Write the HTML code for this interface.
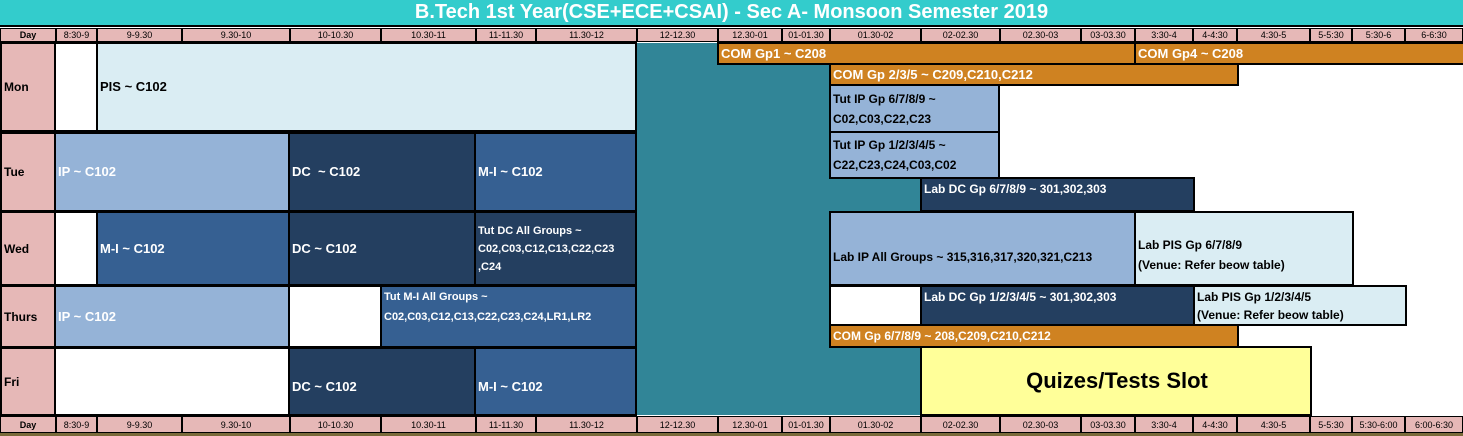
<!DOCTYPE html>
<html><head><meta charset="utf-8"><style>
*{box-sizing:border-box;margin:0;padding:0}
body{width:1463px;height:436px;position:relative;background:#fff;font-family:"Liberation Sans Narrow","Liberation Sans",sans-serif;overflow:hidden}
.b{position:absolute;border:2px solid #000;font-weight:bold;font-size:13px;display:flex;align-items:center;padding-left:2px;line-height:20px;color:#fff}
.h{position:absolute;background:#e6b8b7;border:1px solid #000;font-size:9px;display:flex;align-items:center;justify-content:center;color:#000}
.lb{background:#95b3d7;color:#fff}
.pl{background:#daedf3;color:#000}
.dk{background:#243f60}
.md{background:#366092}
.or{background:#cf8221}
.wh{background:#fff}
.dy{position:absolute;left:0;width:56px;background:#e6b8b7;border:2px solid #000;font-weight:bold;font-size:12px;display:flex;align-items:center;padding-left:2px}
</style></head><body>
<div style="position:absolute;left:0;top:0;width:1463px;height:27px;background:#33cccc;color:#fff;font-weight:bold;font-size:20px;display:flex;align-items:center;justify-content:center;border-bottom:2px solid #000">B.Tech 1st Year(CSE+ECE+CSAI) - Sec A- Monsoon Semester 2019</div>
<div id="hdr"></div>
<div style="position:absolute;left:637px;top:43px;width:284px;height:372px;background:#318597"></div>

<div class="dy" style="top:42px;height:90px">Mon</div>
<div class="dy" style="top:132px;height:80px">Tue</div>
<div class="dy" style="top:211px;height:75px">Wed</div>
<div class="dy" style="top:285px;height:63px">Thurs</div>
<div class="dy" style="top:347px;height:69px">Fri</div>

<div class="b wh" style="left:54px;top:42px;width:44px;height:90px"></div>
<div class="b pl" style="left:96px;top:42px;width:541px;height:90px">PIS ~ C102</div>
<div class="b or" style="left:717px;top:42px;width:419px;height:23px">COM Gp1 ~ C208</div>
<div class="b or" style="left:1134px;top:42px;width:331px;height:23px">COM Gp4 ~ C208</div>
<div class="b or" style="left:829px;top:63px;width:410px;height:23px">COM Gp 2/3/5 ~ C209,C210,C212</div>
<div class="b lb" style="left:829px;top:84px;width:171px;height:49px;color:#000;font-size:12px">Tut IP Gp 6/7/8/9 ~<br>C02,C03,C22,C23</div>

<div class="b lb" style="left:54px;top:132px;width:236px;height:80px">IP ~ C102</div>
<div class="b dk" style="left:288px;top:132px;width:188px;height:80px">DC &nbsp;~ C102</div>
<div class="b md" style="left:474px;top:132px;width:163px;height:80px">M-I ~ C102</div>
<div class="b lb" style="left:829px;top:131px;width:171px;height:48px;color:#000;font-size:12px">Tut IP Gp 1/2/3/4/5 ~<br>C22,C23,C24,C03,C02</div>
<div class="b dk" style="left:920px;top:177px;width:275px;height:35px;align-items:flex-start;font-size:12px">Lab DC Gp 6/7/8/9 ~ 301,302,303</div>

<div class="b wh" style="left:54px;top:211px;width:44px;height:75px"></div>
<div class="b md" style="left:96px;top:211px;width:194px;height:75px">M-I ~ C102</div>
<div class="b dk" style="left:288px;top:211px;width:188px;height:75px">DC ~ C102</div>
<div class="b dk" style="left:474px;top:211px;width:163px;height:75px;font-size:11px;line-height:18px">Tut DC All Groups ~<br>C02,C03,C12,C13,C22,C23<br>,C24</div>
<div class="b lb" style="left:829px;top:211px;width:308px;height:75px;color:#000;font-size:12px;padding-top:16px">Lab IP All Groups ~ 315,316,317,320,321,C213</div>
<div class="b pl" style="left:1134px;top:211px;width:220px;height:75px;font-size:12px;padding-top:12px">Lab PIS Gp 6/7/8/9<br>(Venue: Refer beow table)</div>

<div class="b lb" style="left:54px;top:285px;width:236px;height:63px">IP ~ C102</div>
<div class="b wh" style="left:288px;top:285px;width:94px;height:63px"></div>
<div class="b md" style="left:380px;top:285px;width:257px;height:63px;font-size:11px;align-items:flex-start">Tut M-I All Groups ~<br>C02,C03,C12,C13,C22,C23,C24,LR1,LR2</div>
<div class="b wh" style="left:829px;top:285px;width:93px;height:41px"></div>
<div class="b dk" style="left:920px;top:285px;width:275px;height:41px;align-items:flex-start;font-size:12px">Lab DC Gp 1/2/3/4/5 ~ 301,302,303</div>
<div class="b pl" style="left:1193px;top:285px;width:214px;height:41px;font-size:12px;line-height:18px">Lab PIS Gp 1/2/3/4/5<br>(Venue: Refer beow table)</div>
<div class="b or" style="left:829px;top:324px;width:410px;height:24px;font-size:12px">COM Gp 6/7/8/9 ~ 208,C209,C210,C212</div>

<div class="b wh" style="left:54px;top:347px;width:236px;height:69px"></div>
<div class="b dk" style="left:288px;top:347px;width:188px;height:69px;padding-top:10px">DC ~ C102</div>
<div class="b md" style="left:474px;top:347px;width:163px;height:69px;padding-top:10px">M-I ~ C102</div>
<div class="b" style="left:920px;top:346px;width:392px;height:70px;background:#ffff99;color:#000;font-size:22px;justify-content:center">Quizes/Tests Slot</div>
<div style="position:absolute;left:0;top:433px;width:1463px;height:3px;background:#7a6a3a"></div>

<script>
const slots=["Day","8:30-9","9-9.30","9.30-10","10-10.30","10.30-11","11-11.30","11.30-12","12-12.30","12.30-01","01-01.30","01.30-02","02-02.30","02.30-03","03-03.30","3:30-4","4-4:30","4:30-5","5-5:30","5:30-6","6-6:30"];
const slotsBottom=["Day","8:30-9","9-9.30","9.30-10","10-10.30","10.30-11","11-11.30","11.30-12","12-12.30","12.30-01","01-01.30","01.30-02","02-02.30","02.30-03","03-03.30","3:30-4","4-4:30","4:30-5","5-5:30","5:30-6:00","6:00-6:30"];
const edges=[0,56,97,182,290,381,476,536,637,718,782,830,921,1000,1081,1135,1193,1237,1310,1352,1405,1463];
const hdr=document.getElementById('hdr');
function row(labels,top,h,nm){
  labels.forEach((t,i)=>{
    const d=document.createElement('div');
    d.className='h';
    
    
    d.style.left=edges[i]+'px';d.style.top=top+'px';
    d.style.width=(edges[i+1]-edges[i])+'px';d.style.height=h+'px';
    if(i==0)d.style.fontWeight='bold';
    d.textContent=t;hdr.appendChild(d);
  });
}
row(slots,28,14,'header');
row(slotsBottom,416,17,'footer');
</script>
</body></html>
